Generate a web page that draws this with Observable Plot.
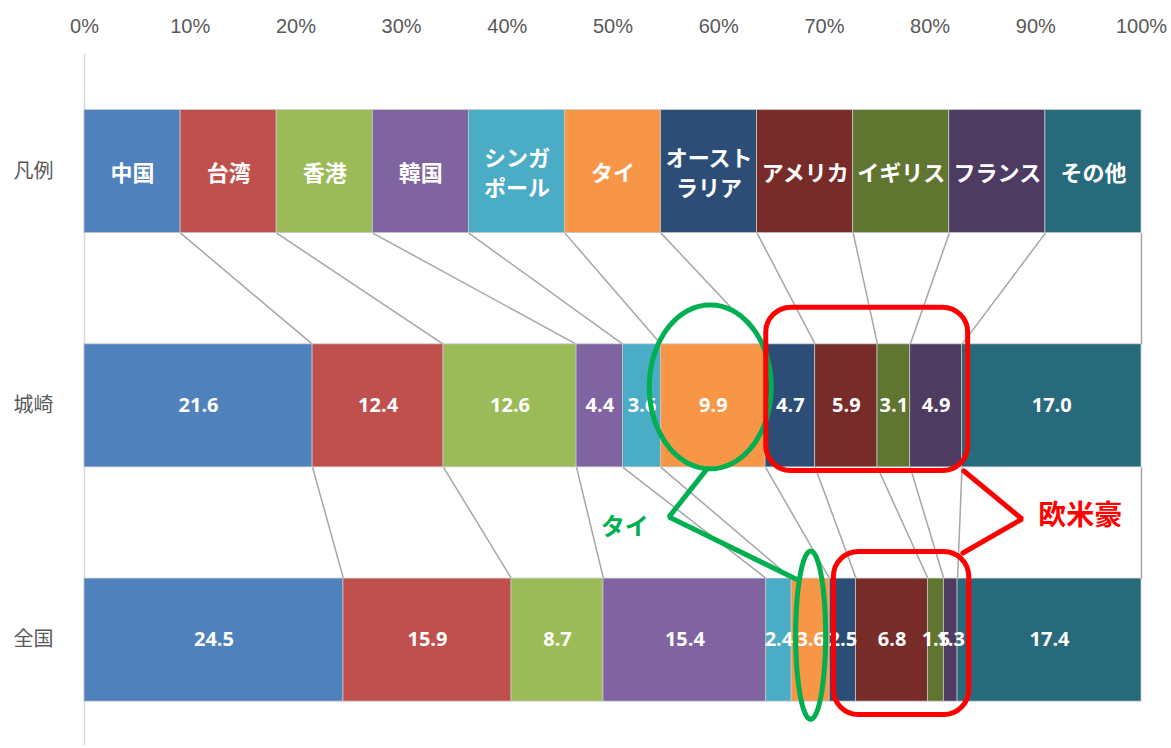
<!DOCTYPE html>
<html>
<head>
<meta charset="utf-8">
<script src="https://cdn.jsdelivr.net/npm/d3@7"></script>
<script src="https://cdn.jsdelivr.net/npm/@observablehq/plot@0.6"></script>
<style>
  html, body { margin: 0; padding: 0; background: #fff; }
  #chart svg { display: block; }
</style>
</head>
<body>
<div id="chart"></div>
<script>
// ---- data ----
const categories = ["中国","台湾","香港","韓国","シンガポール","タイ","オーストラリア","アメリカ","イギリス","フランス","その他"];
const legendLabels = ["中国","台湾","香港","韓国","シンガ\nポール","タイ","オースト\nラリア","アメリカ","イギリス","フランス","その他"];
const colors = ["#4F81BD","#C0504D","#9BBB59","#8064A2","#4BACC6","#F79646","#2C4D75","#772C2A","#5F7530","#4D3B62","#276A7C"];
const rowLabels = ["凡例","城崎","全国"];
const kinosakiValues = [21.6,12.4,12.6,4.4,3.6,9.9,4.7,5.9,3.1,4.9,17.0];
const zenkokuValues  = [24.5,15.9,8.7,15.4,2.4,3.6,2.5,6.8,1.5,1.3,17.4];
const xTicks = [0,10,20,30,40,50,60,70,80,90,100];

// annotation shapes (in data units: x = %, y = row index)
const thaiEllipses = [
  {cx: 59.2, cy: 0.919, rx: 5.77, ry: 0.35},
  {cx: 68.7, cy: 1.979, rx: 1.42, ry: 0.359}
];
const obeigoBoxes = [
  {x1: 64.5, x2: 83.6, y1: 0.581, y2: 1.278},
  {x1: 70.9, x2: 83.7, y1: 1.624, y2: 2.32}
];
const thaiPointer = [[58.9,1.269],[55.3,1.474],[67.3,1.739]];
const obeigoPointer = [[83.2,1.278],[88.7,1.483],[83.1,1.628]];
const thaiNote = [{text: "タイ", x: 51.1, y: 1.517}];
const obeigoNote = [{text: "欧米豪", x: 94.2, y: 1.47}];

// ---- build tables ----
const half = 0.2626;
function stack(values, row, showText) {
  const total = d3.sum(values);
  let acc = 0;
  return values.map((v, i) => {
    const x1 = acc / total * 100;
    acc += v;
    const x2 = acc / total * 100;
    return {row, cat: categories[i], color: colors[i], x1, x2, xm: (x1 + x2) / 2, value: v,
            label: showText ? showText(v, i) : ""};
  });
}
const legendRow = stack(categories.map(() => 1), 0, (v, i) => legendLabels[i]);
const kinoRow = stack(kinosakiValues, 1, v => v.toFixed(1));
const zenRow = stack(zenkokuValues, 2, v => v.toFixed(1));
const allBars = [...legendRow, ...kinoRow, ...zenRow];

const links = [];
for (let i = 0; i < categories.length; i++) {
  links.push({x1: legendRow[i].x2, y1: 0 + half, x2: kinoRow[i].x2, y2: 1 - half});
  links.push({x1: kinoRow[i].x2, y1: 1 + half, x2: zenRow[i].x2, y2: 2 - half});
}

function ellipsePts(e, k) {
  const n = 90;
  return d3.range(n).map(j => {
    const t = j / n * 2 * Math.PI;
    return {x: e.cx + e.rx * Math.cos(t), y: e.cy + e.ry * Math.sin(t), k};
  });
}
const ellipsePoints = thaiEllipses.flatMap((e, k) => ellipsePts(e, k));

const cjk = "'Noto Sans CJK JP', 'Noto Sans', sans-serif";
const numFont = "'Open Sans', 'Noto Sans', sans-serif";
const tickFont = "'Liberation Sans', sans-serif";

const chart = Plot.plot({
  width: 1171,
  height: 748,
  marginLeft: 84,
  marginRight: 30,
  marginTop: 54,
  marginBottom: 3,
  x: {domain: [0, 100]},
  y: {domain: [-0.5, 2.45], reverse: true},
  style: {fontFamily: cjk, background: "#fff"},
  marks: [
    Plot.axisX({anchor: "top", ticks: xTicks, tickFormat: d => `${d}%`, tickSize: 0, tickPadding: 22,
                fontSize: 20, fontFamily: tickFont, fill: "#595959", label: null}),
    Plot.axisY({anchor: "left", ticks: [0,1,2], tickFormat: i => rowLabels[i], tickSize: 0, tickPadding: 31,
                fontSize: 20, fontFamily: cjk, fill: "#595959", label: null}),
    Plot.ruleX([0], {y1: -0.5, y2: 2.45, stroke: "#d9d9d9", strokeWidth: 1.5}),
    Plot.link(links, {x1: "x1", y1: "y1", x2: "x2", y2: "y2", stroke: "#a6a6a6", strokeWidth: 1.5}),
    Plot.rect(allBars, {x1: "x1", x2: "x2", y1: d => d.row - half, y2: d => d.row + half,
                        fill: "color", stroke: "#c8c8c8", strokeWidth: 0.75}),
    Plot.text(legendRow, {x: "xm", y: "row", text: "label", fill: "white", fontSize: 22,
                          fontWeight: "bold", fontFamily: cjk, lineHeight: 1.35}),
    Plot.text([...kinoRow, ...zenRow], {x: "xm", y: "row", text: "label", fill: "white", fontSize: 20,
                          fontWeight: "bold", fontFamily: numFont}),
    Plot.line(ellipsePoints, {x: "x", y: "y", z: "k", curve: "linear-closed", stroke: "#00B050", strokeWidth: 5}),
    Plot.line(thaiPointer, {x: d => d[0], y: d => d[1], stroke: "#00B050", strokeWidth: 5, strokeLinejoin: "miter"}),
    Plot.rect(obeigoBoxes, {x1: "x1", x2: "x2", y1: "y1", y2: "y2", fill: "none", stroke: "#FF0000",
                            strokeWidth: 5, rx: 25}),
    Plot.line(obeigoPointer, {x: d => d[0], y: d => d[1], stroke: "#FF0000", strokeWidth: 5, strokeLinejoin: "miter"}),
    Plot.text(thaiNote, {x: "x", y: "y", text: "text", fill: "#00B050", fontSize: 24, fontWeight: "bold", fontFamily: cjk}),
    Plot.text(obeigoNote, {x: "x", y: "y", text: "text", fill: "#FF0000", fontSize: 28, fontWeight: "bold", fontFamily: cjk})
  ]
});
document.getElementById("chart").appendChild(chart);
</script>
</body>
</html>
